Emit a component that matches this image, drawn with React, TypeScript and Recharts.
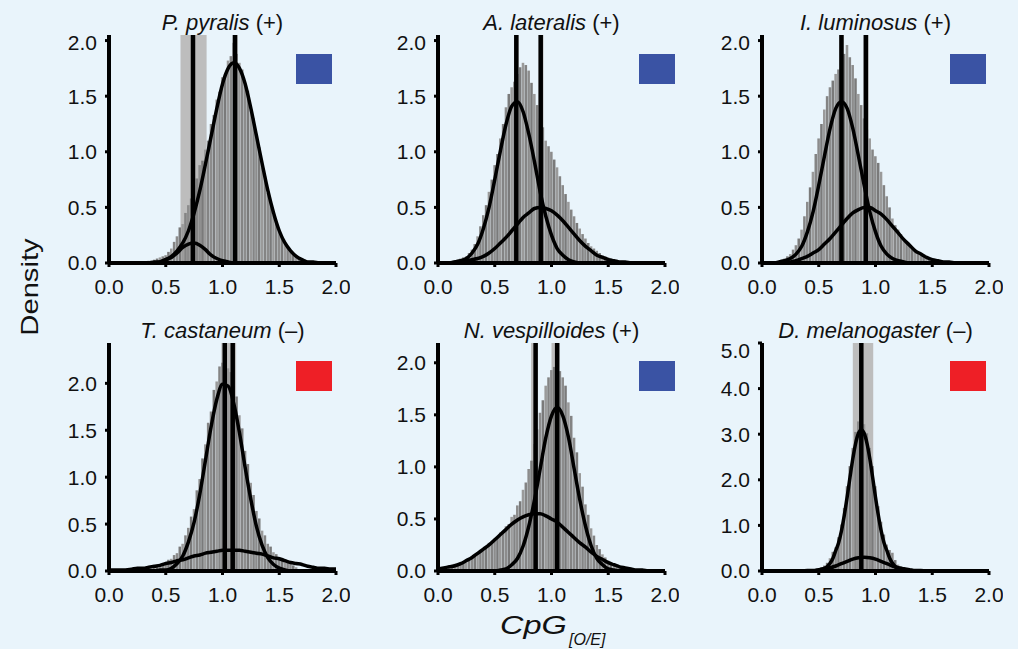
import React from "react";
import {
  ComposedChart,
  Bar,
  Line,
  XAxis,
  YAxis,
  ReferenceLine,
  ReferenceArea,
  Cell,
} from "recharts";

// histogram bin width (CpG o/e units)
const BIN = 0.025;

// ---- P. pyralis ----
const ppyStart = 0.3;
const ppyHist = [
  0.01, 0.01, 0.02, 0.02, 0.03, 0.04, 0.05, 0.06, 0.07,
  0.1, 0.13, 0.19, 0.24, 0.32, 0.35, 0.45, 0.52, 0.58, 0.7, 0.76, 0.88, 0.92, 1.02, 1.1, 1.25, 1.33, 1.47, 1.54, 1.67,
  1.7, 1.82, 1.86, 1.98, 1.88, 1.8, 1.74, 1.6, 1.55, 1.38, 1.3, 1.13, 1.04, 0.86, 0.78, 0.63, 0.55, 0.43, 0.37, 0.28,
  0.24, 0.17, 0.14, 0.1, 0.08, 0.06, 0.05, 0.03, 0.03, 0.02, 0.01, 0.01, 0.01, 0.01,
];
const ppyFitA: [number, number][] = [
  [0, 0], [0.35, 0], [0.4, 0.01], [0.45, 0.01], [0.5, 0.03], [0.55, 0.06], [0.6, 0.11], [0.65, 0.18],
  [0.7, 0.29], [0.75, 0.45], [0.8, 0.65], [0.85, 0.89], [0.9, 1.14], [0.95, 1.39], [1.0, 1.61], [1.05, 1.75],
  [1.1, 1.8], [1.15, 1.75], [1.2, 1.61], [1.25, 1.39], [1.3, 1.14], [1.35, 0.89], [1.4, 0.65], [1.45, 0.45],
  [1.5, 0.29], [1.55, 0.18], [1.6, 0.11], [1.65, 0.06], [1.7, 0.03], [1.75, 0.01], [1.8, 0.01], [1.85, 0], [2, 0],
];
const ppyFitB: [number, number][] = [
  [0, 0], [0.4, 0], [0.45, 0.01], [0.5, 0.03], [0.55, 0.05], [0.6, 0.09], [0.65, 0.14], [0.7, 0.17],
  [0.75, 0.18], [0.8, 0.16], [0.85, 0.12], [0.9, 0.07], [0.95, 0.04], [1.0, 0.02], [1.05, 0.01], [1.1, 0], [2, 0],
];
const ppyMeans = [0.74, 1.11];
const ppyBands: [number, number][] = [[0.63, 0.86], [1.09, 1.135]];

// ---- A. lateralis ----
const alaStart = 0.1;
const alaHist = [
  0.01, 0.01, 0.02, 0.03, 0.04, 0.05, 0.06, 0.09, 0.12, 0.17, 0.24, 0.33, 0.43, 0.52, 0.64, 0.75, 0.88,
  0.98, 1.12, 1.25, 1.4, 1.52, 1.58, 1.63, 1.7, 1.76, 1.8, 1.78, 1.73, 1.62, 1.52, 1.42, 1.3, 1.22, 1.1, 1.05, 1.0,
  0.93, 0.86, 0.78, 0.7, 0.62, 0.55, 0.48, 0.42, 0.36, 0.31, 0.26, 0.22, 0.18, 0.15, 0.13, 0.11, 0.09, 0.07, 0.06, 0.05,
  0.04, 0.03, 0.03, 0.02, 0.02, 0.01, 0.01, 0.01, 0.01, 0.01,
];
const alaFitA: [number, number][] = [
  [0, 0], [0.1, 0], [0.15, 0.01], [0.2, 0.02], [0.25, 0.04], [0.3, 0.09], [0.35, 0.17], [0.4, 0.31],
  [0.45, 0.5], [0.5, 0.75], [0.55, 1.01], [0.6, 1.25], [0.65, 1.41], [0.7, 1.45], [0.75, 1.36], [0.8, 1.16],
  [0.85, 0.91], [0.9, 0.64], [0.95, 0.42], [1.0, 0.25], [1.05, 0.13], [1.1, 0.07], [1.15, 0.03], [1.2, 0.01],
  [1.25, 0], [2, 0],
];
const alaFitB: [number, number][] = [
  [0, 0], [0.1, 0], [0.15, 0.01], [0.2, 0.01], [0.25, 0.02], [0.3, 0.03], [0.35, 0.04], [0.4, 0.06],
  [0.45, 0.09], [0.5, 0.13], [0.55, 0.18], [0.6, 0.23], [0.65, 0.29], [0.7, 0.35], [0.75, 0.41], [0.8, 0.45],
  [0.85, 0.49], [0.9, 0.5], [0.95, 0.49], [1.0, 0.47], [1.05, 0.43], [1.1, 0.38], [1.15, 0.32], [1.2, 0.26],
  [1.25, 0.2], [1.3, 0.15], [1.35, 0.11], [1.4, 0.07], [1.45, 0.05], [1.5, 0.03], [1.55, 0.02], [1.6, 0.01],
  [1.65, 0.01], [1.7, 0], [2, 0],
];
const alaMeans = [0.69, 0.905];
const alaBands: [number, number][] = [[0.67, 0.71], [0.885, 0.93]];

// ---- I. luminosus ----
const iluStart = 0.1;
const iluHist = [
  0.01, 0.01, 0.02, 0.03, 0.04, 0.06, 0.08, 0.12, 0.16, 0.22, 0.3, 0.42, 0.55, 0.68, 0.82, 0.98, 1.12,
  1.25, 1.38, 1.5, 1.58, 1.64, 1.7, 1.74, 1.8, 1.88, 1.96, 1.85, 1.78, 1.66, 1.52, 1.42, 1.3, 1.2, 1.12, 1.02, 0.96,
  0.9, 0.82, 0.7, 0.6, 0.5, 0.4, 0.34, 0.3, 0.26, 0.22, 0.19, 0.16, 0.13, 0.11, 0.09, 0.08, 0.06, 0.05, 0.04, 0.03,
  0.03, 0.02, 0.02, 0.01, 0.01, 0.01, 0.01, 0.01, 0, 0,
];
const iluFitA: [number, number][] = [
  [0, 0], [0.1, 0], [0.15, 0.01], [0.2, 0.02], [0.25, 0.04], [0.3, 0.08], [0.35, 0.15], [0.4, 0.28],
  [0.45, 0.46], [0.5, 0.7], [0.55, 0.96], [0.6, 1.21], [0.65, 1.39], [0.7, 1.45], [0.75, 1.39], [0.8, 1.21],
  [0.85, 0.96], [0.9, 0.7], [0.95, 0.46], [1.0, 0.28], [1.05, 0.15], [1.1, 0.08], [1.15, 0.04], [1.2, 0.02],
  [1.25, 0.01], [1.3, 0], [2, 0],
];
const iluFitB: [number, number][] = [
  [0, 0], [0.15, 0], [0.2, 0.01], [0.25, 0.01], [0.3, 0.02], [0.35, 0.04], [0.4, 0.06], [0.45, 0.09],
  [0.5, 0.12], [0.55, 0.17], [0.6, 0.22], [0.65, 0.28], [0.7, 0.34], [0.75, 0.4], [0.8, 0.45], [0.85, 0.48],
  [0.9, 0.5], [0.95, 0.5], [1.0, 0.47], [1.05, 0.44], [1.1, 0.39], [1.15, 0.33], [1.2, 0.27], [1.25, 0.21],
  [1.3, 0.16], [1.35, 0.11], [1.4, 0.08], [1.45, 0.05], [1.5, 0.03], [1.55, 0.02], [1.6, 0.01], [1.65, 0.01],
  [1.7, 0], [2, 0],
];
const iluMeans = [0.7, 0.915];
const iluBands: [number, number][] = [[0.68, 0.72], [0.895, 0.94]];

// ---- T. castaneum ----
const tcaStart = 0.4;
const tcaHist = [
  0.04, 0.05, 0.07, 0.07, 0.09, 0.12, 0.13, 0.17, 0.19, 0.26, 0.29,
  0.38, 0.46, 0.58, 0.66, 0.86, 0.98, 1.2, 1.35, 1.58, 1.7, 1.93, 2.02, 2.18, 2.22, 2.26, 2.16, 2.12, 1.97, 1.86, 1.66,
  1.52, 1.28, 1.14, 0.94, 0.81, 0.64, 0.56, 0.43, 0.38, 0.29, 0.26, 0.2, 0.18, 0.15, 0.14, 0.11, 0.1, 0.08, 0.06, 0.04,
];
const tcaFitA: [number, number][] = [
  [0, 0], [0.4, 0], [0.45, 0.01], [0.5, 0.01], [0.55, 0.03], [0.6, 0.08], [0.65, 0.16], [0.7, 0.31],
  [0.75, 0.52], [0.8, 0.82], [0.85, 1.18], [0.9, 1.54], [0.95, 1.83], [1.0, 1.99], [1.05, 1.97], [1.1, 1.78],
  [1.15, 1.47], [1.2, 1.1], [1.25, 0.76], [1.3, 0.47], [1.35, 0.27], [1.4, 0.14], [1.45, 0.07], [1.5, 0.03],
  [1.55, 0.01], [1.6, 0], [2, 0],
];
const tcaFitB: [number, number][] = [
  [0, 0.01], [0.1, 0.01], [0.2, 0.02], [0.25, 0.03], [0.3, 0.03], [0.35, 0.04], [0.4, 0.05], [0.45, 0.06],
  [0.5, 0.08], [0.55, 0.09], [0.6, 0.11], [0.65, 0.12], [0.7, 0.14], [0.75, 0.16], [0.8, 0.17], [0.85, 0.19],
  [0.9, 0.2], [0.95, 0.21], [1.0, 0.22], [1.05, 0.22], [1.1, 0.22], [1.15, 0.22], [1.2, 0.21], [1.25, 0.2],
  [1.3, 0.19], [1.35, 0.18], [1.4, 0.16], [1.45, 0.14], [1.5, 0.13], [1.55, 0.11], [1.6, 0.09], [1.65, 0.08],
  [1.7, 0.07], [1.75, 0.05], [1.8, 0.04], [1.85, 0.03], [1.9, 0.03], [1.95, 0.02], [2.0, 0.02],
];
const tcaMeans = [1.02, 1.09];
const tcaBands: [number, number][] = [[0.99, 1.12]];

// ---- N. vespilloides ----
const nveStart = 0.1;
const nveHist = [
  0.05, 0.04, 0.07, 0.05, 0.08, 0.08, 0.11, 0.1, 0.14, 0.15, 0.18, 0.19, 0.22, 0.23, 0.27, 0.27, 0.31,
  0.32, 0.37, 0.38, 0.43, 0.45, 0.52, 0.54, 0.63, 0.67, 0.78, 0.85, 0.98, 1.06, 1.22, 1.36, 1.52, 1.64, 1.78, 1.86, 1.93,
  1.96, 1.95, 1.92, 1.86, 1.78, 1.62, 1.49, 1.28, 1.14, 0.94, 0.81, 0.64, 0.54, 0.41, 0.34, 0.25, 0.21, 0.16, 0.13, 0.1,
  0.08, 0.07, 0.05, 0.04, 0.03, 0.03,
];
const nveFitA: [number, number][] = [
  [0, 0], [0.5, 0], [0.55, 0.01], [0.6, 0.02], [0.65, 0.06], [0.7, 0.12], [0.75, 0.24], [0.8, 0.43],
  [0.85, 0.68], [0.9, 0.98], [0.95, 1.28], [1.0, 1.49], [1.05, 1.57], [1.1, 1.49], [1.15, 1.28], [1.2, 0.98],
  [1.25, 0.68], [1.3, 0.43], [1.35, 0.24], [1.4, 0.12], [1.45, 0.06], [1.5, 0.02], [1.55, 0.01], [1.6, 0], [2, 0],
];
const nveFitB: [number, number][] = [
  [0, 0.02], [0.05, 0.03], [0.1, 0.04], [0.15, 0.05], [0.2, 0.07], [0.25, 0.1], [0.3, 0.13], [0.35, 0.17],
  [0.4, 0.21], [0.45, 0.25], [0.5, 0.3], [0.55, 0.35], [0.6, 0.4], [0.65, 0.45], [0.7, 0.49], [0.75, 0.52],
  [0.8, 0.54], [0.85, 0.55], [0.9, 0.55], [0.95, 0.53], [1.0, 0.5], [1.05, 0.47], [1.1, 0.42], [1.15, 0.37],
  [1.2, 0.32], [1.25, 0.27], [1.3, 0.23], [1.35, 0.18], [1.4, 0.14], [1.45, 0.11], [1.5, 0.08], [1.55, 0.06],
  [1.6, 0.04], [1.65, 0.03], [1.7, 0.02], [1.75, 0.01], [1.8, 0.01], [1.85, 0], [2, 0],
];
const nveMeans = [0.86, 1.05];
const nveBands: [number, number][] = [[0.82, 0.88], [1.0, 1.07]];

// ---- D. melanogaster ----
const dmeStart = 0.45;
const dmeHist = [
  0.03, 0.04, 0.06, 0.08, 0.12, 0.18, 0.28, 0.42, 0.52, 0.74,
  1.02, 1.38, 1.86, 2.3, 2.7, 3.05, 3.28, 3.3, 3.22, 3.02,
  2.7, 2.3, 1.86, 1.42, 1.08, 0.8, 0.58, 0.46, 0.4, 0.24,
  0.14, 0.1, 0.07, 0.05, 0.03, 0.02,
];
const dmeFitA: [number, number][] = [
  [0, 0], [0.45, 0], [0.5, 0.02], [0.55, 0.06], [0.575, 0.1], [0.6, 0.17], [0.625, 0.28], [0.65, 0.45],
  [0.675, 0.62], [0.7, 0.88], [0.725, 1.22], [0.75, 1.62], [0.775, 2.05], [0.8, 2.46], [0.825, 2.8], [0.85, 3.02],
  [0.875, 3.1], [0.9, 3.02], [0.925, 2.8], [0.95, 2.46], [0.975, 2.05], [1.0, 1.62], [1.025, 1.22], [1.05, 0.88],
  [1.075, 0.62], [1.1, 0.45], [1.125, 0.28], [1.15, 0.17], [1.175, 0.1], [1.2, 0.06], [1.25, 0.02], [1.3, 0], [2, 0],
];
const dmeFitB: [number, number][] = [
  [0, 0], [0.35, 0], [0.4, 0.01], [0.45, 0.01], [0.5, 0.03], [0.55, 0.05], [0.6, 0.07], [0.65, 0.11],
  [0.7, 0.16], [0.75, 0.21], [0.8, 0.26], [0.85, 0.29], [0.9, 0.3], [0.95, 0.29], [1.0, 0.26], [1.05, 0.21],
  [1.1, 0.16], [1.15, 0.11], [1.2, 0.07], [1.25, 0.05], [1.3, 0.03], [1.35, 0.01], [1.4, 0.01], [1.45, 0], [2, 0],
];
const dmeMeans = [0.875];
const dmeBands: [number, number][] = [[0.8, 0.98]];

const xTicks = [0, 0.5, 1, 1.5, 2];
const densityTicks = [0, 0.5, 1, 1.5, 2];
const dmeTicks = [0, 1, 2, 3, 4, 5];

const BLUE = "#3a53a4";
const RED = "#ee1f26";
const BG = "#e9f4fb";
const FONT = "'Liberation Sans', Arial, Helvetica, sans-serif";
const SHADES = ["#8c8c8c", "#7a7a7a", "#9a9a9a", "#848484"];

type PanelSpec = {
  species: string;
  sign: string;
  color: string;
  left: number; // x pixel of CpG = 0
  top: number; // y pixel of top of plot area
  start: number;
  hist: number[];
  fitA: [number, number][];
  fitB: [number, number][];
  means: number[];
  bands: [number, number][];
  yMax: number;
  yTicks: number[];
  box: [number, number];
};

const panels: PanelSpec[] = [
  { species: "P. pyralis", sign: "(+)", color: BLUE, left: 109, top: 35, start: ppyStart, hist: ppyHist, fitA: ppyFitA, fitB: ppyFitB, means: ppyMeans, bands: ppyBands, yMax: 2.05, yTicks: densityTicks, box: [296, 54] },
  { species: "A. lateralis", sign: "(+)", color: BLUE, left: 438, top: 35, start: alaStart, hist: alaHist, fitA: alaFitA, fitB: alaFitB, means: alaMeans, bands: alaBands, yMax: 2.05, yTicks: densityTicks, box: [639, 54] },
  { species: "I. luminosus", sign: "(+)", color: BLUE, left: 762, top: 35, start: iluStart, hist: iluHist, fitA: iluFitA, fitB: iluFitB, means: iluMeans, bands: iluBands, yMax: 2.05, yTicks: densityTicks, box: [950, 54] },
  { species: "T. castaneum", sign: "(–)", color: RED, left: 109, top: 343, start: tcaStart, hist: tcaHist, fitA: tcaFitA, fitB: tcaFitB, means: tcaMeans, bands: tcaBands, yMax: 2.43, yTicks: densityTicks, box: [296, 361] },
  { species: "N. vespilloides", sign: "(+)", color: BLUE, left: 438, top: 343, start: nveStart, hist: nveHist, fitA: nveFitA, fitB: nveFitB, means: nveMeans, bands: nveBands, yMax: 2.19, yTicks: densityTicks, box: [639, 361] },
  { species: "D. melanogaster", sign: "(–)", color: RED, left: 762, top: 343, start: dmeStart, hist: dmeHist, fitA: dmeFitA, fitB: dmeFitB, means: dmeMeans, bands: dmeBands, yMax: 5, yTicks: dmeTicks, box: [950, 361] },
];

const PLOT_W = 227;
const PLOT_H = 228;
const Y_AXIS_W = 50;
const X_AXIS_H = 35;
const M_TOP = 5;
const M_RIGHT = 14;

const toPoints = (arr: [number, number][]) => arr.map(([x, y]) => ({ x, y }));

// the interval bands sit behind the histogram, so they get their own chart layer underneath
function BandLayer({ p, rows }: { p: PanelSpec; rows: { x: number; h: number }[] }) {
  return (
    <ComposedChart
      width={Y_AXIS_W + PLOT_W + M_RIGHT}
      height={M_TOP + PLOT_H + X_AXIS_H}
      data={rows}
      margin={{ top: M_TOP, right: M_RIGHT, bottom: 0, left: 0 }}
    >
      <XAxis type="number" dataKey="x" domain={[0, 2]} height={X_AXIS_H} tick={false} axisLine={false} tickLine={false} />
      <YAxis type="number" domain={[0, p.yMax]} width={Y_AXIS_W} tick={false} axisLine={false} tickLine={false} />
      {/* invisible series so the axes get a domain */}
      <Bar dataKey="h" barSize={3} fill="transparent" isAnimationActive={false} />
      {p.bands.map(([a, b]) => (
        <ReferenceArea key={a} x1={a} x2={b} fill="#bdbdbd" fillOpacity={1} stroke="none" />
      ))}
    </ComposedChart>
  );
}

function Panel({ p }: { p: PanelSpec }) {
  const rows = p.hist.map((h, i) => ({ x: +(p.start + i * BIN).toFixed(3), h }));
  const tickStyle = { fill: "#111", fontSize: 21, fontFamily: FONT };
  const layer = { position: "absolute" as const, left: p.left - Y_AXIS_W, top: p.top - M_TOP };

  return (
    <>
      <div style={layer}>
        <BandLayer p={p} rows={rows} />
      </div>
      <div style={layer}>
        <ComposedChart
          width={Y_AXIS_W + PLOT_W + M_RIGHT}
          height={M_TOP + PLOT_H + X_AXIS_H}
          data={rows}
          margin={{ top: M_TOP, right: M_RIGHT, bottom: 0, left: 0 }}
        >
          <XAxis
            type="number"
            dataKey="x"
            domain={[0, 2]}
            ticks={xTicks}
            tickFormatter={(v) => Number(v).toFixed(1)}
            height={X_AXIS_H}
            tick={tickStyle}
            tickSize={4}
            tickMargin={12}
            axisLine={{ stroke: "#000", strokeWidth: 4 }}
            tickLine={{ stroke: "#000", strokeWidth: 3 }}
          />
          <YAxis
            type="number"
            domain={[0, p.yMax]}
            ticks={p.yTicks}
            tickFormatter={(v) => Number(v).toFixed(1)}
            width={Y_AXIS_W}
            tick={tickStyle}
            tickSize={4}
            tickMargin={8}
            axisLine={{ stroke: "#000", strokeWidth: 4 }}
            tickLine={{ stroke: "#000", strokeWidth: 3 }}
          />
          <Bar dataKey="h" barSize={3} isAnimationActive={false}>
            {rows.map((r, i) => (
              <Cell key={r.x} fill={SHADES[i % SHADES.length]} />
            ))}
          </Bar>
          {p.means.map((m) => (
            <ReferenceLine key={m} x={m} stroke="#000" strokeWidth={4.5} />
          ))}
          <Line data={toPoints(p.fitB)} dataKey="y" type="monotone" dot={false} stroke="#000" strokeWidth={3.5} isAnimationActive={false} />
          <Line data={toPoints(p.fitA)} dataKey="y" type="monotone" dot={false} stroke="#000" strokeWidth={3.5} isAnimationActive={false} />
        </ComposedChart>
      </div>
    </>
  );
}

export default function App() {
  return (
    <div
      style={{
        position: "absolute",
        left: 0,
        top: 0,
        width: 1018,
        height: 649,
        background: BG,
        overflow: "hidden",
        fontFamily: FONT,
      }}
    >
      {panels.map((p) => (
        <Panel key={p.species} p={p} />
      ))}
      <svg width={1018} height={649} style={{ position: "absolute", left: 0, top: 0, pointerEvents: "none" }}>
        {panels.map((p) => (
          <g key={p.species}>
            <text
              x={p.left + PLOT_W / 2}
              y={p.top - 5}
              textAnchor="middle"
              fontSize={22}
              fontFamily={FONT}
              fill="#111"
            >
              <tspan fontStyle="italic">{p.species}</tspan>
              <tspan> {p.sign}</tspan>
            </text>
            <rect x={p.box[0]} y={p.box[1]} width={36} height={30} fill={p.color} />
          </g>
        ))}
        <text
          transform="translate(38,287) rotate(-90) scale(1.27,1)"
          textAnchor="middle"
          fontSize={23}
          fontFamily={FONT}
          fill="#111"
        >
          Density
        </text>
        <text transform="translate(500,634) scale(1.3,1)" fontSize={25} fontStyle="italic" fontFamily={FONT} fill="#111">
          CpG
        </text>
        <text x={569} y={645} fontSize={16} fontStyle="italic" fontFamily={FONT} fill="#111">
          [O/E]
        </text>
      </svg>
    </div>
  );
}
